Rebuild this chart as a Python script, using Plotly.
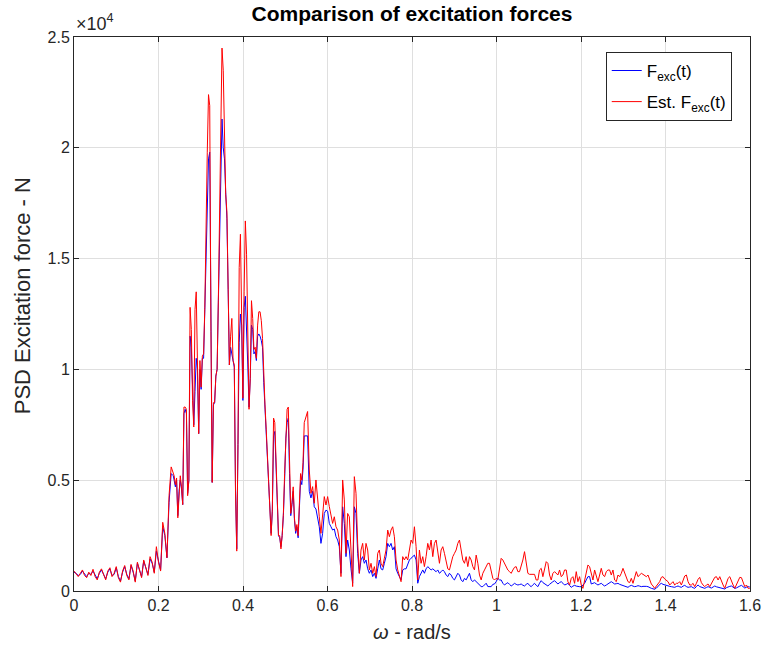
import numpy as np
import plotly.graph_objects as go

# ---------------- data (omega in rad/s, PSD in N) ----------------
# segment 1: low-frequency part
low_range = (0.0, 0.235)
red_low = [900, 750, 650, 800, 950, 700, 600, 850, 700, 980,
           650, 500, 850, 1000, 700, 500, 900, 1050, 650, 800,
           1100, 600, 400, 900, 1150, 700, 500, 1200, 900, 400,
           1300, 1000, 600, 1400, 1100, 700, 1550, 1300, 800, 2000,
           1300, 900, 3100, 2600, 1500, 4300, 5600, 5300]
blue_low = [850, 800, 700, 750, 900, 750, 650, 800, 750, 900,
            700, 550, 800, 950, 750, 550, 850, 1000, 700, 750,
            1050, 650, 450, 850, 1100, 750, 550, 1150, 850, 450,
            1250, 950, 650, 1350, 1050, 750, 1450, 1250, 850, 1800,
            1350, 950, 2900, 2500, 1500, 4000, 5300, 5200]

# segment 2: main peak
peak_range = (0.237, 0.545)
red_peak = [5200, 4800, 5100, 3300, 4500, 5200, 4700, 3900, 8300, 8300,
            8200, 4300, 5000, 12800, 11800, 8600, 7400, 12700, 13500, 10500,
            7100, 10400, 9200, 10600, 10700, 12800, 17100, 19800, 22400, 21900,
            11700, 4900, 8500, 8500, 9700, 10000, 13100, 16700, 21300, 24500,
            23500, 19700, 17900, 17100, 13800, 10200, 11500, 12300, 10400, 10200,
            4500, 1800, 6600, 14600, 16100, 12500, 8700, 13500, 16700, 15200,
            10200, 8200, 9600, 13100, 12300, 10900, 11000, 10500, 12000, 12600,
            12600, 12200, 11400, 9600, 8400, 7300, 6100, 5000, 3800, 2500,
            3700, 7800, 7600, 6100, 3700, 2500, 2500, 1900, 2500, 3500,
            5300, 7300, 8200, 8300, 5500, 3500, 4000, 4700, 3300, 2700,
            3000, 2500, 3900, 5300, 5000, 5800, 7600]
blue_peak = [5000, 4700, 5000, 3400, 4500, 5000, 4600, 3900, 8000, 8200,
             8000, 4400, 5000, 11500, 11000, 8600, 7500, 9000, 10500, 10000,
             7100, 10000, 9100, 10500, 10500, 12700, 15000, 17000, 19500, 19800,
             11500, 4900, 8400, 8500, 9700, 10000, 13000, 15500, 19000, 21300,
             20000, 19500, 18000, 16800, 13600, 10200, 11000, 10700, 10400, 10100,
             4600, 1900, 6600, 11200, 12500, 12000, 8600, 12800, 13300, 12000,
             10200, 8300, 9600, 12000, 11800, 10700, 10800, 10400, 11500, 11600,
             11500, 11300, 11000, 9400, 8200, 7100, 5700, 4800, 3800, 2600,
             3600, 7000, 7200, 5800, 3600, 2500, 2400, 2000, 2500, 3400,
             5000, 6900, 7600, 7800, 5300, 3400, 3900, 4500, 3200, 2600,
             2900, 2400, 3700, 5000, 4800, 5500, 7000]

# segment 3: mid frequencies
mid_range = (0.5529, 0.9795)
red_mid = [8100, 5460, 4410, 4710, 3960, 5010, 3960, 3350, 2600, 3350,
           4260, 3880, 4260, 3810, 3350, 3050, 3350, 2900, 2750, 2300,
           650, 5010, 4110, 1700, 3500, 3350, 1850, 200, 5160, 4410,
           2150, 800, 1850, 2150, 1400, 2150, 1850, 950, 1250, 800,
           1100, 650, 1700, 1850, 1250, 1100, 1480, 1850, 2750, 2450,
           2750, 2900, 2450, 1400, 950, 650, 420, 1550, 1400, 1550,
           1400, 1850, 2300, 2150, 2900, 2000, 500, 1850, 1250, 1550,
           1100, 1550, 2150, 1850, 2300, 1550, 2150, 2300, 1700, 1250,
           1850, 2000, 1700, 1400, 1000, 950, 1250, 1550, 1700, 1850,
           2150, 2300, 1850, 1400, 1250, 1550, 1100, 1550, 1400, 1100,
           950, 1620, 1250, 720, 500, 800, 950, 1100, 1250]
blue_mid = [7000, 4500, 4200, 4500, 3800, 3700, 3300, 2900, 2150, 2600,
            3500, 3650, 3600, 3050, 2900, 2750, 2800, 2450, 2300, 2000,
            800, 3800, 3050, 1550, 2300, 1850, 1000, 350, 3800, 3500,
            1700, 800, 1400, 1550, 1250, 1400, 1000, 800, 950, 650,
            800, 570, 1000, 1400, 1000, 950, 1250, 1550, 2150, 2000,
            2150, 1850, 2000, 1000, 800, 650, 500, 950, 1000, 1000,
            1250, 1400, 1480, 1550, 1620, 1400, 350, 650, 800, 950,
            800, 1000, 1100, 1000, 950, 1000, 950, 870, 950, 800,
            870, 950, 870, 720, 650, 800, 720, 570, 500, 650,
            800, 720, 500, 420, 570, 500, 650, 800, 500, 420,
            500, 420, 350, 270, 200, 200, 270, 350, 200]

# segment 4: high-frequency tail
tail_range = (0.9834, 1.5995)
red_tail = [1248, 948, 572, 496, 572, 520, 948, 1474, 1399, 1248,
            1098, 948, 873, 797, 948, 1070, 1098, 873, 873, 1098,
            1399, 1775, 1248, 797, 752, 752, 752, 752, 496, 496,
            948, 1023, 647, 948, 1324, 1248, 722, 496, 797, 873,
            797, 722, 948, 647, 722, 948, 948, 421, 271, 572,
            647, 346, 873, 421, 647, 271, 120, 496, 948, 1173,
            1098, 722, 496, 948, 722, 421, 722, 1023, 722, 647,
            873, 948, 948, 722, 948, 496, 421, 722, 647, 797,
            1023, 797, 572, 421, 376, 572, 346, 572, 873, 647,
            722, 797, 752, 677, 647, 722, 496, 316, 226, 120,
            226, 316, 421, 617, 647, 541, 496, 421, 271, 346,
            421, 271, 346, 346, 421, 271, 496, 677, 722, 421,
            271, 271, 346, 196, 346, 526, 617, 376, 271, 196,
            271, 316, 196, 346, 496, 617, 647, 496, 647, 421,
            271, 120, 346, 572, 647, 421, 271, 120, 271, 466,
            617, 602, 376, 196, 271, 120, 120]
blue_tail = [196, 196, 300, 316, 420, 572, 500, 496, 350, 271,
             330, 376, 300, 226, 280, 346, 300, 271, 290, 316,
             260, 226, 300, 346, 250, 196, 280, 346, 260, 196,
             350, 466, 380, 316, 260, 226, 300, 376, 420, 466,
             380, 316, 380, 421, 350, 271, 300, 346, 250, 166,
             220, 256, 220, 196, 196, 196, 280, 346, 500, 647,
             650, 316, 346, 376, 320, 271, 310, 346, 280, 226,
             270, 316, 380, 421, 370, 316, 330, 346, 300, 271,
             250, 226, 190, 166, 220, 256, 220, 196, 210, 240,
             220, 196, 210, 226, 210, 196, 150, 120, 100, 75,
             140, 196, 300, 346, 300, 271, 240, 226, 210, 196,
             180, 166, 200, 226, 190, 166, 220, 256, 200, 166,
             180, 196, 150, 120, 200, 271, 200, 166, 140, 120,
             160, 196, 160, 135, 180, 226, 190, 166, 140, 120,
             100, 90, 150, 196, 210, 226, 170, 120, 140, 166,
             220, 256, 190, 135, 170, 196, 180]

x_ticks = [0, 0.2, 0.4, 0.6, 0.8, 1.0, 1.2, 1.4, 1.6]
x_tick_text = ["0", "0.2", "0.4", "0.6", "0.8", "1", "1.2", "1.4", "1.6"]
y_ticks = [0, 5000, 10000, 15000, 20000, 25000]
y_tick_text = ["0", "0.5", "1", "1.5", "2", "2.5"]


def assemble(segments):
    xs, ys = [], []
    for (lo, hi), vals in segments:
        xs.extend(np.linspace(lo, hi, len(vals)).tolist())
        ys.extend(vals)
    return xs, ys


x_blue, y_blue = assemble([(low_range, blue_low), (peak_range, blue_peak),
                           (mid_range, blue_mid), (tail_range, blue_tail)])
x_red, y_red = assemble([(low_range, red_low), (peak_range, red_peak),
                         (mid_range, red_mid), (tail_range, red_tail)])

fig = go.Figure()
fig.add_trace(go.Scatter(x=x_blue, y=y_blue, mode="lines",
                         line=dict(color="#0000ff", width=1),
                         name="F<sub>exc</sub>(t)", legendgroup="a"))
fig.add_trace(go.Scatter(x=x_red, y=y_red, mode="lines",
                         line=dict(color="#ff0000", width=1),
                         name="Est. F<sub>exc</sub>(t)", legendgroup="b"))

axis_common = dict(showline=True, linecolor="#262626", linewidth=1,
                   mirror="allticks", ticks="inside", ticklen=5,
                   tickcolor="#262626", showgrid=True, gridcolor="#dfdfdf",
                   gridwidth=1, zeroline=False, automargin=False,
                   tickfont=dict(size=16, color="#262626"))

fig.update_layout(
    width=763, height=649,
    margin=dict(l=74, r=13, t=37, b=58, autoexpand=False),
    paper_bgcolor="white", plot_bgcolor="white",
    font=dict(family="Liberation Sans, Arial, sans-serif", color="#262626", size=16),
    title=dict(text="<b>Comparison of excitation forces</b>",
               xref="paper", x=0.5, xanchor="center",
               y=1 - 14 / 649, yanchor="middle",
               font=dict(size=21, color="#000000")),
    xaxis=dict(range=[0, 1.6], tickvals=x_ticks, ticktext=x_tick_text, **axis_common),
    yaxis=dict(range=[0, 25000], tickvals=y_ticks, ticktext=y_tick_text, **axis_common),
    legend=dict(x=0.973, y=0.973, xanchor="right", yanchor="top",
                bgcolor="white", bordercolor="#262626", borderwidth=1,
                tracegroupgap=6,
                font=dict(size=17, color="#000000")),
    showlegend=True,
)

fig.add_annotation(text="<i>ω</i> - rad/s", xref="paper", yref="paper",
                   x=0.5, y=-0.074, xanchor="center", yanchor="middle",
                   showarrow=False, font=dict(size=20, color="#262626"))
fig.add_annotation(text="PSD Excitation force - N", xref="paper", yref="paper",
                   x=-0.0769, y=0.532, xanchor="center", yanchor="middle",
                   textangle=-90, showarrow=False,
                   font=dict(size=22, color="#262626"))
fig.add_annotation(text="×10<sup>4</sup>", xref="paper", yref="paper",
                   x=0, y=1, xanchor="left", yanchor="bottom", yshift=1,
                   showarrow=False, font=dict(size=18, color="#262626"))

fig.write_html("out.html")
